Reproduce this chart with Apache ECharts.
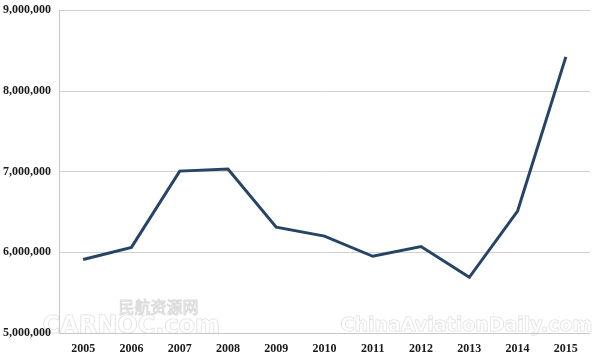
<!DOCTYPE html>
<html><head><meta charset="utf-8">
<script src="https://cdn.jsdelivr.net/npm/echarts@6/dist/echarts.min.js"></script>
<style>html,body{margin:0;padding:0;background:#fff}#c{width:600px;height:359px}</style>
</head><body><div id="c"></div>
<script>
const categories = ['2005','2006','2007','2008','2009','2010','2011','2012','2013','2014','2015'];
const values = [5910000, 6060000, 7005000, 7030000, 6310000, 6200000, 5950000, 6070000, 5690000, 6510000, 8420000];
const yTicks = [5000000, 6000000, 7000000, 8000000, 9000000];

const chart = echarts.init(document.getElementById('c'), null, {renderer: 'canvas'});
const fmt = v => v.toLocaleString('en-US');
chart.setOption({
  animation: false,
  backgroundColor: '#fff',
  grid: {left: 59, right: 10, top: 10, bottom: 26, containLabel: false},
  xAxis: {
    type: 'category', data: categories, boundaryGap: true,
    axisLine: {show: true, lineStyle: {color: '#c8c8c8', width: 1}},
    axisTick: {show: false},
    axisLabel: {color: '#1a1a1a', fontFamily: 'Liberation Serif', fontWeight: 'bold', fontSize: 12, margin: 10}
  },
  yAxis: {
    type: 'value', min: yTicks[0], max: yTicks[yTicks.length-1], interval: 1000000,
    axisLine: {show: true, lineStyle: {color: '#c8c8c8', width: 1}},
    axisTick: {show: false},
    splitLine: {show: true, lineStyle: {color: '#d0d0d0', width: 1}},
    axisLabel: {color: '#1a1a1a', fontFamily: 'Liberation Serif', fontWeight: 'bold', fontSize: 12, margin: 8, formatter: fmt}
  },
  graphic: [
    {type: 'text', left: 118, top: 298, silent: true, style: {text: '民航资源网', fontFamily: 'Noto Sans CJK SC', fontSize: 16, fill: 'rgba(255,255,255,0)', stroke: '#dcdcdc', lineWidth: 1}},
    {type: 'text', left: 42, top: 314, silent: true, style: {text: 'CARNOC.com', fontFamily: 'DejaVu Sans', fontWeight: 'bold', fontSize: 24, fill: 'rgba(255,255,255,0.6)', stroke: '#dcdcdc', lineWidth: 1}},
    {type: 'text', left: 340, top: 316, silent: true, style: {text: 'ChinaAviationDaily.com', fontFamily: 'DejaVu Sans', fontWeight: 'bold', fontSize: 19, fill: 'rgba(255,255,255,0.6)', stroke: '#dcdcdc', lineWidth: 1}}
  ],
  series: [{
    type: 'line', data: values, symbol: 'none',
    lineStyle: {color: '#264566', width: 3, join: 'miter'}
  }]
});
</script></body></html>
